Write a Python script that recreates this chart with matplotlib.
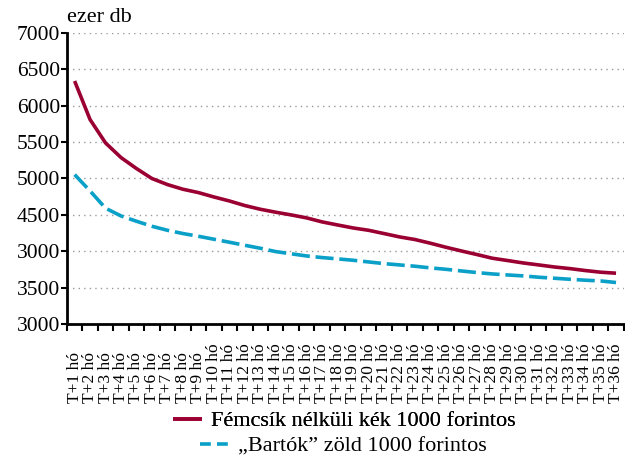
import matplotlib.pyplot as plt
from matplotlib.lines import Line2D
import numpy as np

plt.rcParams['font.family'] = ['Liberation Serif', 'DejaVu Serif']

honapok = ["T+%d hó" % i for i in range(1, 37)]

# ezer db
femcsik_nelkuli = [6339, 5809, 5488, 5287, 5136, 4999, 4916, 4852, 4806, 4746,
                   4691, 4628, 4577, 4536, 4499, 4458, 4403, 4361, 4320, 4288,
                   4243, 4197, 4161, 4110, 4055, 4004, 3955, 3904, 3872, 3839,
                   3812, 3784, 3762, 3735, 3712, 3698]
bartok = [5053, 4828, 4591, 4485, 4412, 4343, 4288, 4243, 4206, 4165,
          4124, 4082, 4041, 3995, 3965, 3935, 3913, 3895, 3876, 3853,
          3830, 3812, 3794, 3771, 3752, 3729, 3707, 3688, 3674, 3661,
          3643, 3629, 3615, 3602, 3592, 3570]

y_ticks = [3000, 3500, 4000, 4500, 5000, 5500, 6000, 6500, 7000]
# az eredeti abra feliratai (4000 helyett 3000 all)
y_labels = ["3000", "3500", "3000", "4500", "5000", "5500", "6000", "6500", "7000"]

fig = plt.figure(figsize=(6.25, 4.57), dpi=100)
ax = fig.add_axes([0.107, 0.291, 0.891, 0.637])

x = np.arange(len(honapok))
l1, = ax.plot(x, femcsik_nelkuli, color='#9b0033', lw=2.6, solid_capstyle='butt',
              label="Fémcsík nélküli kék 1000 forintos")
l2, = ax.plot(x, bartok, color='#0aa0c8', lw=2.6, dashes=(5, 1.6),
              label="\u201eBartók\u201d zöld 1000 forintos")

ax.set_xlim(-0.5, len(honapok) - 0.5)
ax.set_ylim(3000, 7000)
ax.set_yticks(y_ticks)
ax.set_yticklabels(y_labels, fontsize=15.5)

ax.set_xticks(np.arange(len(honapok) + 1) - 0.5)
ax.set_xticklabels([])
ax.set_xticks(x, minor=True)
ax.set_xticklabels(honapok, minor=True, rotation=90, fontsize=12.5, va='bottom')
ax.tick_params(axis='x', which='minor', length=0, pad=57)
ax.tick_params(axis='x', which='major', length=5, width=1.5, direction='out')
ax.tick_params(axis='y', length=4, width=1.5, pad=1)

for v in y_ticks[1:]:
    ax.axhline(v, color='#999999', lw=1, ls=(0, (1, 3)), zorder=0)

for s in ['top', 'right']:
    ax.spines[s].set_visible(False)
ax.spines['left'].set_linewidth(2)
ax.spines['bottom'].set_linewidth(2)

fig.text(0.107, 0.942, "ezer db", fontsize=16, va='bottom', ha='left')

# ket kulon legenda, hogy mindket sor kozepre igazodjon
leg1 = fig.legend(handles=[l1], loc='center', bbox_to_anchor=(0.551, 1 - 421 / 457),
                  frameon=False, fontsize=16, handlelength=1.3, handletextpad=0.4,
                  borderpad=0, borderaxespad=0)
fig.add_artist(leg1)
fig.legend(handles=[Line2D([], [], color='#0aa0c8', lw=2.6, dashes=(3, 1.7))],
           labels=[l2.get_label()], loc='center',
           bbox_to_anchor=(0.550, 1 - 446 / 457),
           frameon=False, fontsize=16, handlelength=1.3, handletextpad=0.4,
           borderpad=0, borderaxespad=0)

fig.savefig("out.png", dpi=100)
